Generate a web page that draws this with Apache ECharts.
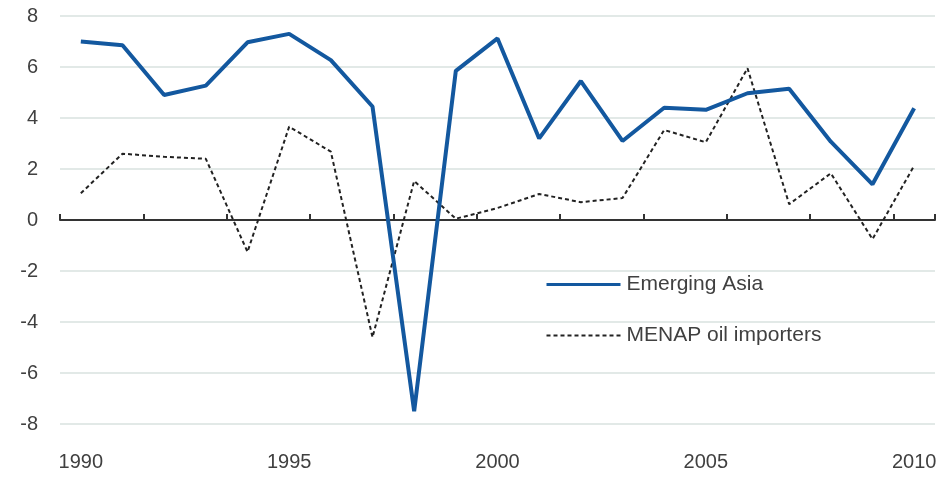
<!DOCTYPE html>
<html lang="en">
<head>
  <meta charset="UTF-8">
  <title>Emerging Asia vs MENAP oil importers</title>
  <script src="https://cdn.jsdelivr.net/npm/echarts@6.0.0/dist/echarts.min.js"></script>
  <style>
    html, body { margin: 0; padding: 0; background: #fff; }
  </style>
</head>
<body>
  <div id="main" style="width: 941px; height: 477px;"></div>

  <script>
    // Years on the x axis
    const years = ['1990', '1991', '1992', '1993', '1994', '1995', '1996', '1997', '1998', '1999',
      '2000', '2001', '2002', '2003', '2004', '2005', '2006', '2007', '2008', '2009', '2010'];

    // Values
    const emergingAsia = [7.0, 6.85, 4.9, 5.27, 6.97, 7.3, 6.27, 4.45, -7.5, 5.85,
      7.12, 3.2, 5.45, 3.1, 4.4, 4.32, 4.97, 5.15, 3.07, 1.4, 4.38];
    const menapOilImporters = [1.05, 2.6, 2.48, 2.4, -1.25, 3.66, 2.68, -4.6, 1.53, 0.05,
      0.47, 1.02, 0.7, 0.86, 3.53, 3.05, 5.95, 0.62, 1.83, -0.75, 2.13];

    const font = '"Liberation Sans", Arial, sans-serif';
    const labelColor = '#404040';

    let myChart = echarts.init(document.getElementById('main'));

    const options = {
      animation: false,
      grid: { left: 60, right: 6, top: 16, bottom: 53 },
      legend: {
        orient: 'vertical',
        left: 540,
        top: 269,
        itemWidth: 74,
        itemHeight: 14,
        itemGap: 30,
        itemStyle: { opacity: 0 },
        textStyle: { fontFamily: font, fontSize: 21, color: labelColor, padding: [0, 0, 0, 1] },
        data: [
          { name: 'Emerging Asia', lineStyle: { width: 3 } },
          { name: 'MENAP oil importers', lineStyle: { width: 2 } }
        ]
      },
      xAxis: [
        {
          // axis line through zero, ticks every two years
          type: 'category',
          data: years,
          boundaryGap: true,
          axisLine: { onZero: true, lineStyle: { color: '#333', width: 2 } },
          axisTick: { show: true, interval: 1, length: 6, inside: true, lineStyle: { color: '#333', width: 2 } },
          axisLabel: { show: false },
          splitLine: { show: false }
        },
        {
          // labels along the bottom
          type: 'category',
          data: years,
          position: 'bottom',
          boundaryGap: true,
          axisLine: { show: false, onZero: false },
          axisTick: { show: false },
          axisLabel: {
            interval: 4,
            margin: 28,
            fontFamily: font,
            fontSize: 20,
            color: labelColor
          }
        }
      ],
      yAxis: {
        type: 'value',
        min: -8,
        max: 8,
        interval: 2,
        axisLine: { show: false },
        axisTick: { show: false },
        axisLabel: { margin: 22, fontFamily: font, fontSize: 20, color: labelColor },
        splitLine: { lineStyle: { color: '#e2e9e7', width: 2 } }
      },
      series: [
        {
          name: 'Emerging Asia',
          type: 'line',
          data: emergingAsia,
          symbol: 'none',
          lineStyle: { color: '#13589f', width: 4 },
          itemStyle: { color: '#13589f' },
          z: 3
        },
        {
          name: 'MENAP oil importers',
          type: 'line',
          data: menapOilImporters,
          symbol: 'none',
          lineStyle: { color: '#222', width: 2, type: [4, 3] },
          itemStyle: { color: '#222' },
          z: 2
        }
      ]
    };

    myChart.setOption(options);
  </script>
</body>
</html>
